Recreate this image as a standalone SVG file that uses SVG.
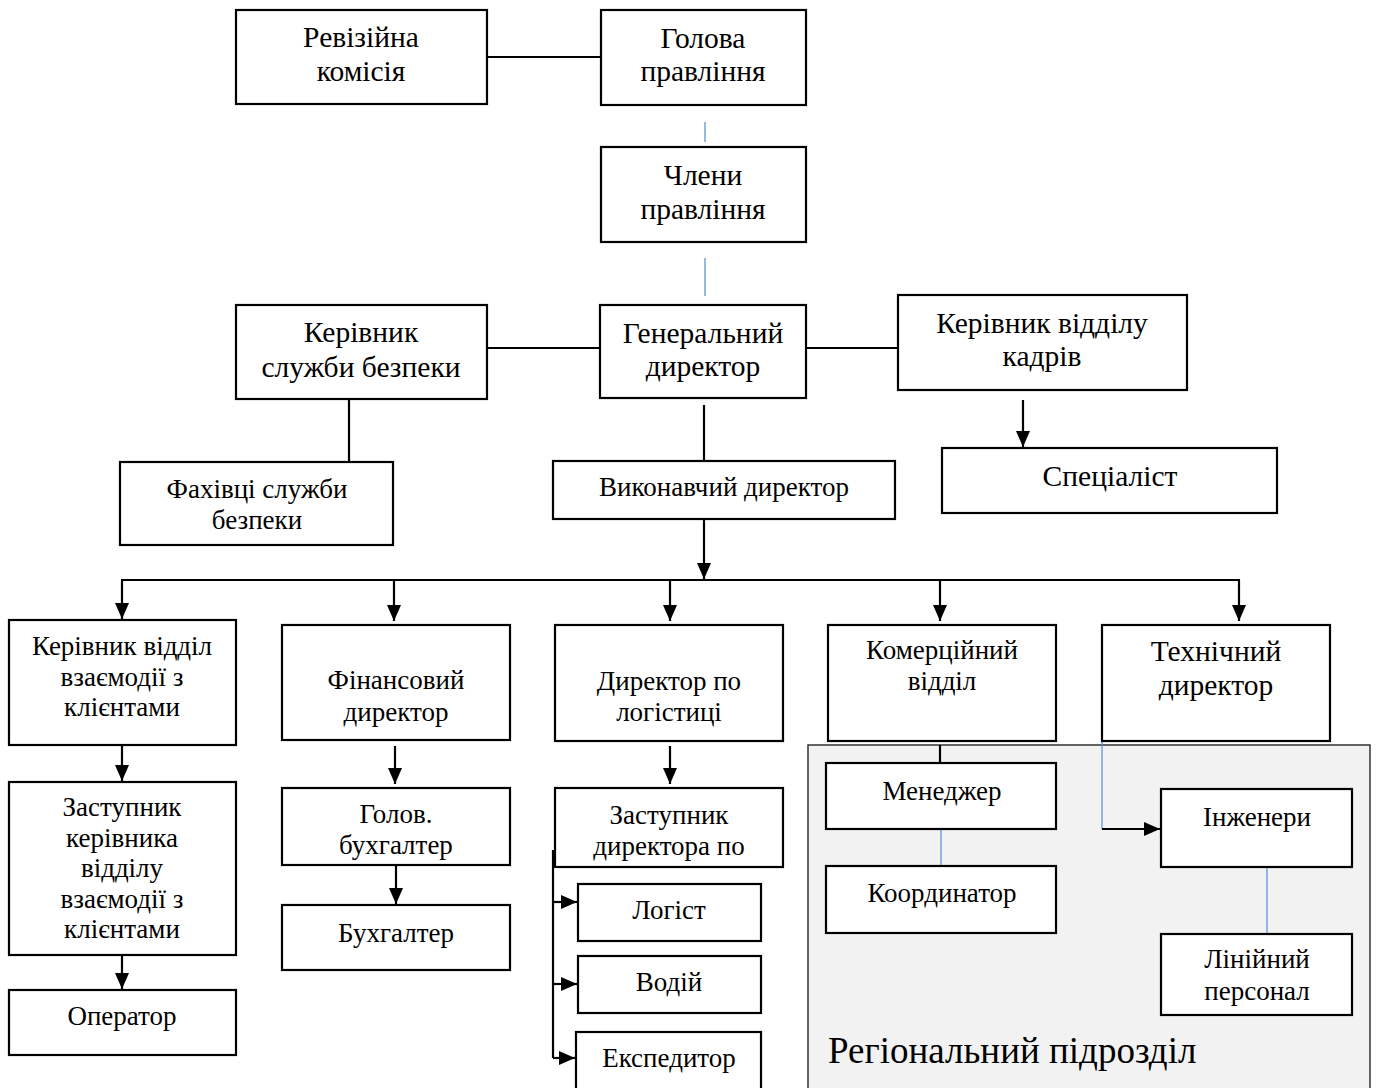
<svg xmlns="http://www.w3.org/2000/svg" width="1377" height="1088" viewBox="0 0 1377 1088">
<style>
.b{fill:#fff;stroke:#000;stroke-width:2.2}
.t{font-family:"Liberation Serif","Times New Roman",serif;fill:#000;text-anchor:middle}
.l{font-size:29.5px}
.m{font-size:27px}
.s{font-size:27px}
.c{fill:none;stroke:#000;stroke-width:2.2}
.bl{fill:none;stroke:#4f8fd6;stroke-width:1.2}
</style>
<defs>
<marker id="ah" markerWidth="18" markerHeight="16" refX="16" refY="7" orient="auto" markerUnits="userSpaceOnUse">
<path d="M0,0 L16,7 L0,14 Z" fill="#000"/>
</marker>
</defs>
<rect width="1377" height="1088" fill="#fff"/>

<g id="region">
<rect x="808" y="745" width="562" height="350" fill="#f2f2f2" stroke="#333" stroke-width="1.5"/>
<text x="828" y="1063" font-family="'Liberation Serif','Times New Roman',serif" font-size="37">Регіональний підрозділ</text>
</g>

<g id="connectors">
<line class="c" x1="487" y1="57" x2="601" y2="57"/>
<line class="bl" x1="705" y1="122" x2="705" y2="142"/>
<line class="bl" x1="705" y1="258" x2="705" y2="296"/>
<line class="c" x1="487" y1="348" x2="600" y2="348"/>
<line class="c" x1="806" y1="348" x2="898" y2="348"/>
<line class="c" x1="1023" y1="400" x2="1023" y2="447" marker-end="url(#ah)"/>
<line class="c" x1="349" y1="399" x2="349" y2="462"/>
<line class="c" x1="704" y1="405" x2="704" y2="461"/>
<line class="c" x1="704" y1="519" x2="704" y2="579" marker-end="url(#ah)"/>
<line class="c" x1="121" y1="580" x2="1240" y2="580"/>
<line class="c" x1="122" y1="580" x2="122" y2="619" marker-end="url(#ah)"/>
<line class="c" x1="394" y1="580" x2="394" y2="621" marker-end="url(#ah)"/>
<line class="c" x1="670" y1="580" x2="670" y2="621" marker-end="url(#ah)"/>
<line class="c" x1="940" y1="580" x2="940" y2="621" marker-end="url(#ah)"/>
<line class="c" x1="1239" y1="580" x2="1239" y2="621" marker-end="url(#ah)"/>
<line class="c" x1="122" y1="745" x2="122" y2="781" marker-end="url(#ah)"/>
<line class="c" x1="122" y1="955" x2="122" y2="989" marker-end="url(#ah)"/>
<line class="c" x1="395" y1="746" x2="395" y2="784" marker-end="url(#ah)"/>
<line class="c" x1="396" y1="865" x2="396" y2="904" marker-end="url(#ah)"/>
<line class="c" x1="670" y1="746" x2="670" y2="784" marker-end="url(#ah)"/>
<path class="c" d="M553,850 V1058"/>
<line class="c" x1="553" y1="902" x2="577" y2="902" marker-end="url(#ah)"/>
<line class="c" x1="553" y1="984" x2="577" y2="984" marker-end="url(#ah)"/>
<line class="c" x1="553" y1="1058" x2="575" y2="1058" marker-end="url(#ah)"/>
<line class="c" x1="940" y1="745" x2="940" y2="763"/>
<line class="bl" x1="941" y1="829" x2="941" y2="866"/>
<path class="bl" d="M1102,741 V829"/>
<line class="c" x1="1102" y1="829" x2="1160" y2="829" marker-end="url(#ah)"/>
<line class="bl" x1="1267" y1="867" x2="1267" y2="934"/>
</g>

<g id="n-revision"><rect class="b" x="236" y="10" width="251" height="94"/><text class="t l" x="361" y="47">Ревізійна</text><text class="t l" x="361" y="81">комісія</text></g>
<g id="n-head"><rect class="b" x="601" y="10" width="205" height="95"/><text class="t l" x="703" y="48">Голова</text><text class="t l" x="703" y="81">правління</text></g>
<g id="n-members"><rect class="b" x="601" y="147" width="205" height="95"/><text class="t l" x="703" y="185">Члени</text><text class="t l" x="703" y="219">правління</text></g>
<g id="n-ceo"><rect class="b" x="600" y="305" width="206" height="93"/><text class="t l" x="703" y="343">Генеральний</text><text class="t l" x="703" y="376">директор</text></g>
<g id="n-security"><rect class="b" x="236" y="305" width="251" height="94"/><text class="t l" x="361" y="342">Керівник</text><text class="t l" x="361" y="377">служби безпеки</text></g>
<g id="n-hr"><rect class="b" x="898" y="295" width="289" height="95"/><text class="t l" x="1042" y="333">Керівник відділу</text><text class="t l" x="1042" y="366">кадрів</text></g>
<g id="n-specialist"><rect class="b" x="942" y="448" width="335" height="65"/><text class="t l" x="1110" y="486">Спеціаліст</text></g>
<g id="n-secstaff"><rect class="b" x="120" y="462" width="273" height="83"/><text class="t m" x="257" y="498">Фахівці служби</text><text class="t m" x="257" y="529">безпеки</text></g>
<g id="n-exec"><rect class="b" x="553" y="461" width="342" height="58"/><text class="t m" x="724" y="496">Виконавчий директор</text></g>
<g id="n-clients"><rect class="b" x="9" y="620" width="227" height="125"/><text class="t m" x="122" y="655">Керівник відділ</text><text class="t m" x="122" y="686">взаємодії з</text><text class="t m" x="122" y="716">клієнтами</text></g>
<g id="n-fin"><rect class="b" x="282" y="625" width="228" height="115"/><text class="t m" x="396" y="689">Фінансовий</text><text class="t m" x="396" y="721">директор</text></g>
<g id="n-log"><rect class="b" x="555" y="625" width="228" height="116"/><text class="t m" x="669" y="690">Директор по</text><text class="t m" x="669" y="721">логістиці</text></g>
<g id="n-com"><rect class="b" x="828" y="625" width="228" height="116"/><text class="t s" x="942" y="659">Комерційний</text><text class="t s" x="942" y="690">відділ</text></g>
<g id="n-tech"><rect class="b" x="1102" y="625" width="228" height="116"/><text class="t l" x="1216" y="661">Технічний</text><text class="t l" x="1216" y="695">директор</text></g>
<g id="n-deputy"><rect class="b" x="9" y="782" width="227" height="173"/><text class="t m" x="122" y="816">Заступник</text><text class="t m" x="122" y="847">керівника</text><text class="t m" x="122" y="877">відділу</text><text class="t m" x="122" y="908">взаємодії з</text><text class="t m" x="122" y="938">клієнтами</text></g>
<g id="n-operator"><rect class="b" x="9" y="990" width="227" height="65"/><text class="t m" x="122" y="1025">Оператор</text></g>
<g id="n-chiefacc"><rect class="b" x="282" y="788" width="228" height="77"/><text class="t m" x="396" y="823">Голов.</text><text class="t m" x="396" y="854">бухгалтер</text></g>
<g id="n-acc"><rect class="b" x="282" y="905" width="228" height="65"/><text class="t m" x="396" y="942">Бухгалтер</text></g>
<g id="n-deplog"><rect class="b" x="555" y="788" width="228" height="79"/><text class="t m" x="669" y="824">Заступник</text><text class="t m" x="669" y="855">директора по</text></g>
<g id="n-logist"><rect class="b" x="578" y="884" width="183" height="57"/><text class="t m" x="669" y="919">Логіст</text></g>
<g id="n-driver"><rect class="b" x="578" y="956" width="183" height="57"/><text class="t m" x="669" y="991">Водій</text></g>
<g id="n-forwarder"><rect class="b" x="576" y="1032" width="185" height="60"/><text class="t m" x="669" y="1067">Експедитор</text></g>
<g id="n-manager"><rect class="b" x="826" y="763" width="230" height="66"/><text class="t s" x="942" y="800">Менеджер</text></g>
<g id="n-coord"><rect class="b" x="826" y="866" width="230" height="67"/><text class="t s" x="942" y="902">Координатор</text></g>
<g id="n-eng"><rect class="b" x="1161" y="789" width="191" height="78"/><text class="t s" x="1257" y="826">Інженери</text></g>
<g id="n-line"><rect class="b" x="1161" y="934" width="191" height="81"/><text class="t s" x="1257" y="968">Лінійний</text><text class="t s" x="1257" y="1000">персонал</text></g>
</svg>
